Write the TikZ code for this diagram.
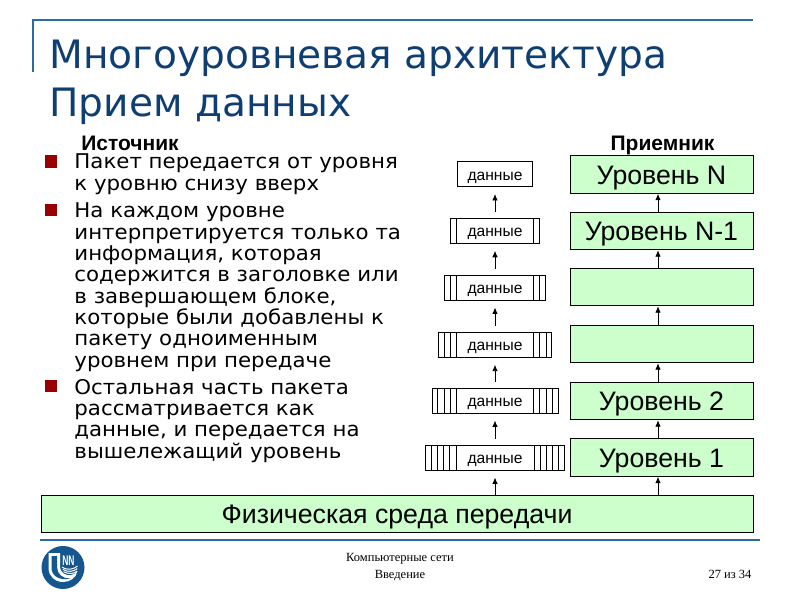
\documentclass[tikz,border=0pt]{standalone}
\usepackage{fontspec}
\setmainfont{Liberation Sans}
\newfontfamily\verdanafont{DejaVu Sans}
\newfontfamily\bodyfont[FakeStretch=1.05]{DejaVu Sans}
\newfontfamily\footfont{Liberation Serif}
\usetikzlibrary{positioning,calc,arrows.meta}

\definecolor{linkblue}{HTML}{2A6AA6}
\definecolor{titleblue}{HTML}{0F3F72}
\definecolor{logoblue}{HTML}{15568F}
\definecolor{bulletred}{HTML}{990000}
\definecolor{levelgreen}{HTML}{CCFFCC}

\tikzset{
  levelbox/.style={rectangle,draw,fill=levelgreen,minimum width=183pt,minimum height=37.5pt,inner sep=0pt,text height=19pt,text depth=0pt,font=\fontsize{26.7}{26.7}\selectfont},
  databox/.style={rectangle,draw,minimum height=25pt,inner sep=0pt,text height=12pt,text depth=0pt,font=\fontsize{15.6}{15.6}\selectfont},
  headtext/.style={anchor=base,inner sep=0pt,font=\fontsize{21}{21}\selectfont\bfseries},
  titletext/.style={anchor=base west,inner sep=0pt,text=titleblue,font=\fontsize{39.1}{39.1}\selectfont\verdanafont},
  bodytext/.style={anchor=north west,inner sep=0pt,align=left,font=\fontsize{20.3}{21.35}\selectfont\bodyfont},
  foottext/.style={inner sep=0pt,font=\fontsize{12.5}{12.5}\selectfont\footfont},
  bullet/.style={rectangle,fill=bulletred,minimum size=12.5pt,inner sep=0pt},
  uparrow/.style={draw,-{Latex[length=6.5pt,width=5.5pt]}}
}

\begin{document}
\begin{tikzpicture}[x=1pt,y=-1pt,line width=0.9pt]
  \useasboundingbox (0,0) rectangle (800,600);

  % frame
  \draw[linkblue,line width=1.6pt] (33,72) -- (33,20) -- (753,20);
  \draw[linkblue,line width=2.2pt] (40,540) -- (760,540);

  % title
  \node[titletext] (title1) at (49,68) {Многоуровневая архитектура};
  \node[titletext] (title2) at (49,116) {Прием данных};

  % text
  \node[headtext] (src) at (130,150) {Источник};
  \node[headtext] (dst) at (662.5,150) {Приемник};

  \begin{scope}[every node/.style={bullet}]
    \node (b1) at (51,161.5) {};
    \node (b2) at (51,210) {};
    \node (b3) at (51,386) {};
  \end{scope}

  \node[bodytext] (t1) at (74,153.5) {Пакет передается от уровня\\к уровню снизу вверх};
  \node[bodytext] (t2) at (74,202.5) {На каждом уровне\\интерпретируется только та\\информация, которая\\содержится в заголовке или\\в завершающем блоке,\\которые были добавлены к\\пакету одноименным\\уровнем при передаче};
  \node[bodytext] (t3) at (74,378.5) {Остальная часть пакета\\рассматривается как\\данные, и передается на\\вышележащий уровень};

  % levels
  \begin{scope}[every node/.style={levelbox}]
    \node (ln) at (661.5,174.5) {Уровень N};
    \node (lm) at (661.5,231)   {Уровень N-1};
    \node (l4) at (661.5,287)   {};
    \node (l3) at (661.5,344)   {};
    \node (l2) at (661.5,401)   {Уровень 2};
    \node (l1) at (661.5,457.5) {Уровень 1};
    \node[minimum width=712pt] (phys) at (397,514) {Физическая среда передачи};
  \end{scope}

  % packets
  \begin{scope}[every node/.style={databox}]
    \node[minimum width=75.5pt] (d6) at (495,174)   {данные};
    \node[minimum width=89pt]   (d5) at (495,230.8) {данные};
    \node[minimum width=101pt]  (d4) at (495,287.5) {данные};
    \node[minimum width=113.5pt](d3) at (495,344.7) {данные};
    \node[minimum width=126pt]  (d2) at (495,400.5) {данные};
    \node[minimum width=139pt]  (d1) at (495,457.5) {данные};
  \end{scope}

  % header bars
  \foreach \i/\n in {5/1,4/2,3/3,2/4,1/5} {
    \foreach \k in {1,...,\n} {
      \draw ($(d\i.south west)+(6.2*\k,0)$) -- ($(d\i.north west)+(6.2*\k,0)$);
      \draw ($(d\i.south east)+(-6.2*\k,0)$) -- ($(d\i.north east)+(-6.2*\k,0)$);
    }
  }

  % arrows
  \coordinate (up) at (658,0);
  \begin{scope}[every edge/.style={uparrow}]
    \path (l1.north -| up)   edge (l2.south -| up);
    \path (l2.north -| up)   edge (l3.south -| up);
    \path (l3.north -| up)   edge (l4.south -| up);
    \path (l4.north -| up)   edge (lm.south -| up);
    \path (lm.north -| up)   edge (ln.south -| up);
    \path (phys.north -| up) edge (l1.south -| up);
  \end{scope}

  \begin{scope}[every edge/.style={uparrow,shorten <=6pt,shorten >=7pt}]
    \path (d1) edge (d2);
    \path (d2) edge (d3);
    \path (d3) edge (d4);
    \path (d4) edge (d5);
    \path (d5) edge (d6);
    \path (phys.north -| d1) edge[shorten <=0pt] (d1);
  \end{scope}

  % footer
  \node[foottext] (f1) at (400,559) {Компьютерные сети};
  \node[foottext] (f2) at (400,576) {Введение};
  \node[foottext] (f3) at (730,574) {27 из 34};

  % logo
  \fill[logoblue] (63,567.5) circle (21.5);
  \fill[white] (48.5,553) -- (60,553) -- (60,566) .. controls (60,573) and (66,576) .. (71,575) .. controls (74,574.5) and (76,573) .. (77.5,571) .. controls (76,578) and (70,582) .. (63,582) .. controls (55,582) and (48.5,576) .. (48.5,568) -- cycle;
  \fill[logoblue] (51.5,556) -- (57,556) -- (57,567) .. controls (57,574) and (63,579) .. (70,578.5) .. controls (60,581) and (51.5,576) .. (51.5,568) -- cycle;
  \node[inner sep=0pt,text=white,font=\fontsize{14}{14}\selectfont\bfseries,xscale=0.6] (nn) at (68.5,560.5) {NN};
  \foreach \r in {0,2.6,5.2} {
    \draw[white,line width=1pt] (77.5-\r*0.1,566+\r) .. controls (74,569+\r) and (68,571+\r*0.6) .. (62+\r*0.3,567+\r*0.9);
  }
\end{tikzpicture}
\end{document}
